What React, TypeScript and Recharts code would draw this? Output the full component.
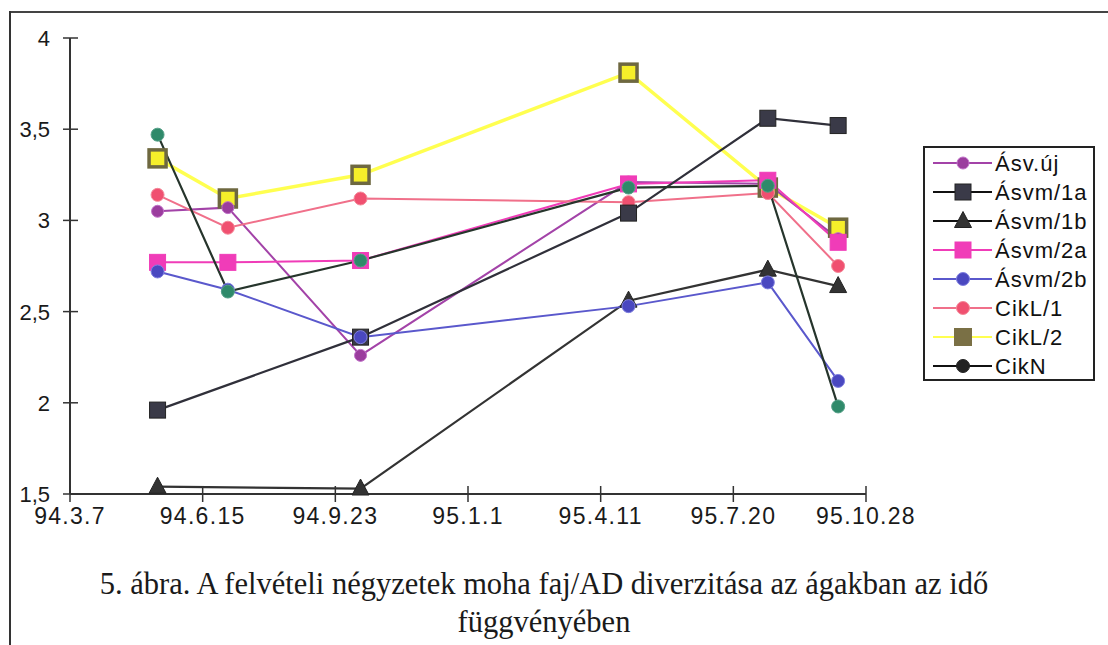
import React from "react";
import { LineChart, Line, XAxis, YAxis, Legend } from "recharts";

// sampling dates and axis ticks (x axis is a day scale from 94.3.7)
const baseDate = "1994-03-07";
const sampleDates = ["1994-05-12", "1994-07-04", "1994-10-12", "1995-05-02", "1995-08-15", "1995-10-07"];
const tickDates = ["1994-03-07", "1994-06-15", "1994-09-23", "1995-01-01", "1995-04-11", "1995-07-20", "1995-10-28"];
const tickLabels = ["94.3.7", "94.6.15", "94.9.23", "95.1.1", "95.4.11", "95.7.20", "95.10.28"];
const yTicks = [1.5, 2, 2.5, 3, 3.5, 4];

// species/AD diversity per sampling date
const asvUj = [3.05, 3.07, 2.26, 3.21, 3.2, 2.9];
const asvm1a = [1.96, null, 2.36, 3.04, 3.56, 3.52];
const asvm1b = [1.54, null, 1.53, 2.56, 2.73, 2.64];
const asvm2a = [2.77, 2.77, 2.78, 3.2, 3.22, 2.88];
const asvm2b = [2.72, 2.62, 2.36, 2.53, 2.66, 2.12];
const cikL1 = [3.14, 2.96, 3.12, 3.1, 3.15, 2.75];
const cikL2 = [3.34, 3.12, 3.25, 3.81, 3.18, 2.96];
const cikN = [3.47, 2.61, 2.78, 3.18, 3.19, 1.98];

const dayOf = (d: string) => Math.round((Date.parse(d) - Date.parse(baseDate)) / 86400000);
const tickDays = tickDates.map(dayOf);

const data = sampleDates.map((d, i) => ({
  day: dayOf(d),
  asvUj: asvUj[i],
  asvm1a: asvm1a[i],
  asvm1b: asvm1b[i],
  asvm2a: asvm2a[i],
  asvm2b: asvm2b[i],
  cikL1: cikL1[i],
  cikL2: cikL2[i],
  cikN: cikN[i],
}));

const sans = "'Liberation Sans', Arial, Helvetica, sans-serif";

type Shape = "circle" | "square" | "triangle";
type Series = { key: string; name: string; line: string; width: number; fill: string; edge: string; edgeW: number; shape: Shape; size: number };

const seriesByKey: Record<string, Series> = {
  asvUj: { key: "asvUj", name: "Ásv.új", line: "#a343a8", width: 2, fill: "#9b3d9e", edge: "#c070c8", edgeW: 1, shape: "circle", size: 12 },
  asvm1a: { key: "asvm1a", name: "Ásvm/1a", line: "#30303a", width: 2.2, fill: "#3a3a48", edge: "#222", edgeW: 1, shape: "square", size: 16 },
  asvm1b: { key: "asvm1b", name: "Ásvm/1b", line: "#333", width: 2.2, fill: "#333", edge: "#222", edgeW: 1, shape: "triangle", size: 17 },
  asvm2a: { key: "asvm2a", name: "Ásvm/2a", line: "#f03cb8", width: 2, fill: "#f03cb8", edge: "#f03cb8", edgeW: 1, shape: "square", size: 16 },
  asvm2b: { key: "asvm2b", name: "Ásvm/2b", line: "#5a58cc", width: 2, fill: "#4a48c0", edge: "#8080e0", edgeW: 1, shape: "circle", size: 13 },
  cikL1: { key: "cikL1", name: "CikL/1", line: "#f0708a", width: 2, fill: "#f05070", edge: "#f48898", edgeW: 1, shape: "circle", size: 13 },
  cikL2: { key: "cikL2", name: "CikL/2", line: "#ffff50", width: 3.5, fill: "#f6ef2a", edge: "#6e6840", edgeW: 3.5, shape: "square", size: 17 },
  cikN: { key: "cikN", name: "CikN", line: "#26352c", width: 2.2, fill: "#2f8a6a", edge: "#55a088", edgeW: 1, shape: "circle", size: 13 },
};

const drawOrder = ["cikL2", "asvUj", "asvm2a", "cikL1", "asvm1a", "asvm1b", "asvm2b", "cikN"];
const legendOrder = ["asvUj", "asvm1a", "asvm1b", "asvm2a", "asvm2b", "cikL1", "cikL2", "cikN"];
const legendFill: Record<string, string> = { cikN: "#222", cikL2: "#7a7045" };

function Marker({ s, cx, cy, fill }: { s: Series; cx: number; cy: number; fill?: string }) {
  const h = s.size / 2;
  const f = fill ?? s.fill;
  if (s.shape === "circle") return <circle cx={cx} cy={cy} r={h} fill={f} stroke={s.edge} strokeWidth={s.edgeW} />;
  if (s.shape === "square")
    return <rect x={cx - h} y={cy - h} width={s.size} height={s.size} fill={f} stroke={s.edge} strokeWidth={s.edgeW} />;
  return (
    <polygon
      points={`${cx},${cy - h - 1} ${cx - h},${cy + h - 2} ${cx + h},${cy + h - 2}`}
      fill={f}
      stroke={s.edge}
      strokeWidth={s.edgeW}
    />
  );
}

const makeDot = (s: Series) => (props: any) => {
  const { cx, cy, index, value } = props;
  if (value == null || cy == null || isNaN(cy)) return <g key={`${s.key}-${index}`} />;
  return (
    <g key={`${s.key}-${index}`}>
      <Marker s={s} cx={cx} cy={cy} />
    </g>
  );
};

const XTick = (props: any) => {
  const { x, y, index } = props;
  return (
    <g>
      <line x1={x} x2={x} y1={y - 8} y2={y + 8} stroke="#333" strokeWidth={1.5} />
      <text x={x} y={y + 30} textAnchor="middle" fontSize={23} letterSpacing={1.3} fill="#1a1a1a" style={{ fontFamily: sans }}>
        {tickLabels[index]}
      </text>
    </g>
  );
};

const YTick = (props: any) => {
  const { x, y, payload } = props;
  return (
    <g>
      <line x1={x - 7} x2={x + 8} y1={y} y2={y} stroke="#333" strokeWidth={1.5} />
      <text x={x - 20} y={y + 8} textAnchor="end" fontSize={22} fill="#1a1a1a" style={{ fontFamily: sans }}>
        {String(payload.value).replace(".", ",")}
      </text>
    </g>
  );
};

const LegendBox = () => (
  <div style={{ width: 172, height: 235, border: "2px solid #222", boxSizing: "border-box", background: "#fff" }}>
    <svg width={168} height={231}>
      {legendOrder.map((k, i) => {
        const s = seriesByKey[k];
        const y = 15 + i * 29;
        return (
          <g key={k}>
            <line x1={8} x2={67} y1={y} y2={y} stroke={k === "cikN" || k === "asvm1a" || k === "asvm1b" ? "#111" : s.line} strokeWidth={2} />
            <Marker s={{ ...s, edge: legendFill[k] ?? s.edge, edgeW: 1 }} cx={38} cy={y} fill={legendFill[k]} />
            <text x={70} y={y + 8} fontSize={22} letterSpacing={1} fill="#111" style={{ fontFamily: sans }}>
              {s.name}
            </text>
          </g>
        );
      })}
    </svg>
  </div>
);

export default function App() {
  return (
    <div style={{ position: "absolute", left: 0, top: 0, width: 1108, height: 645, background: "#fff", overflow: "hidden" }}>
      <div style={{ position: "absolute", left: 9, top: 11, width: 1099, height: 2, background: "#444" }} />
      <div style={{ position: "absolute", left: 9, top: 11, width: 2, height: 634, background: "#333" }} />
      <LineChart width={1108} height={645} data={data} margin={{ top: 38, right: 242, bottom: 121, left: 0 }}>
        <XAxis
          dataKey="day"
          type="number"
          domain={[0, 600]}
          ticks={tickDays}
          height={30}
          tickSize={0}
          tickMargin={0}
          tick={<XTick />}
          axisLine={{ stroke: "#333", strokeWidth: 2 }}
        />
        <YAxis
          domain={[1.5, 4]}
          ticks={yTicks}
          width={70}
          tickSize={0}
          tickMargin={0}
          tick={<YTick />}
          axisLine={{ stroke: "#333", strokeWidth: 2 }}
        />
        <Legend
          layout="vertical"
          align="center"
          verticalAlign="middle"
          content={<LegendBox />}
          wrapperStyle={{ left: 923, top: 146, width: 172, height: 235 }}
        />
        {drawOrder.map((k) => {
          const s = seriesByKey[k];
          return (
            <Line
              key={k}
              type="linear"
              dataKey={k}
              name={s.name}
              stroke={s.line}
              strokeWidth={s.width}
              dot={makeDot(s)}
              activeDot={false}
              connectNulls
              isAnimationActive={false}
            />
          );
        })}
      </LineChart>
      <div
        style={{
          position: "absolute",
          left: 0,
          width: 1088,
          top: 565,
          textAlign: "center",
          fontFamily: "'Liberation Serif', 'Times New Roman', serif",
          fontSize: 30.5,
          lineHeight: "38px",
          color: "#1a1a1a",
        }}
      >
        5. ábra. A felvételi négyzetek moha faj/AD diverzitása az ágakban az idő
        <br />
        függvényében
      </div>
    </div>
  );
}
